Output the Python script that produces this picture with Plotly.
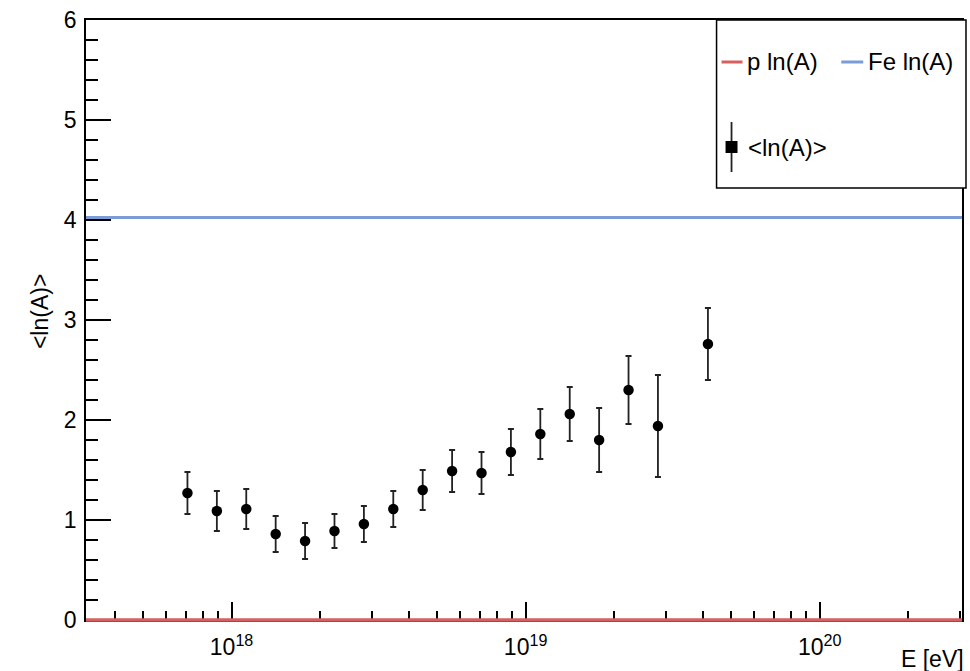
import plotly.graph_objects as go

# Mean logarithmic mass versus primary energy
lg_energy = [17.85, 17.95, 18.05, 18.15, 18.25, 18.35, 18.45, 18.55, 18.65,
             18.75, 18.85, 18.95, 19.05, 19.15, 19.25, 19.35, 19.45, 19.62]
mean_lnA = [1.27, 1.09, 1.11, 0.86, 0.79, 0.89, 0.96, 1.11, 1.30,
            1.49, 1.47, 1.68, 1.86, 2.06, 1.80, 2.30, 1.94, 2.76]
err_lnA = [0.21, 0.20, 0.20, 0.18, 0.18, 0.17, 0.18, 0.18, 0.20,
           0.21, 0.21, 0.23, 0.25, 0.27, 0.32, 0.34, 0.51, 0.36]

# Reference compositions: ln(1) for protons, ln(56) for iron
lnA_proton = 0.0
lnA_iron = 4.025
energy_span = [10.0 ** 17.505, 10.0 ** 20.484]

x_major = [1e18, 1e19, 1e20]
x_major_text = ["10<sup>18</sup>", "10<sup>19</sup>", "10<sup>20</sup>"]
x_minor = [float(m) * 10.0 ** d for d in (17, 18, 19) for m in range(2, 10)] + [2e20, 3e20]
x_minor = [v for v in x_minor if v > 3.2e17]

Y_RANGE = [0, 6]

RED = "#d65f5f"
BLUE = "#7b9cd9"

W, H = 970, 671
L, R, T, B = 86, 6, 20, 51
PW, PH = W - L - R, H - T - B


def px(x):
    return (x - L) / PW


def py(y):
    return (H - B - y) / PH


def y_to_paper(v):
    return (v - Y_RANGE[0]) / (Y_RANGE[1] - Y_RANGE[0])


fig = go.Figure()

fig.add_trace(go.Scatter(
    x=energy_span, y=[lnA_iron, lnA_iron], mode="lines",
    line=dict(color=BLUE, width=3), name="Fe ln(A)"))
fig.add_trace(go.Scatter(
    x=[10.0 ** v for v in lg_energy], y=mean_lnA, mode="markers",
    marker=dict(color="black", size=10.5, symbol="circle"),
    error_y=dict(type="data", array=err_lnA, visible=True,
                 color="#222222", thickness=1.8, width=3),
    name="<ln(A)>"))

axis_common = dict(
    showgrid=False, zeroline=False, showline=True, linecolor="black",
    linewidth=1.5, mirror=True, ticks="inside", tickcolor="black",
    tickwidth=1.5, layer="below traces",
    tickfont=dict(family="Liberation Sans, Arial, sans-serif", size=23, color="black"),
)

fig.update_xaxes(
    type="log", range=[17.505, 20.484], tickvals=x_major, ticktext=x_major_text,
    ticklen=18, ticklabelstandoff=6,
    minor=dict(tickvals=x_minor, ticks="inside", ticklen=9, tickcolor="black",
               tickwidth=1.5, showgrid=False),
    **axis_common)
fig.update_yaxes(
    range=Y_RANGE, tick0=0, dtick=1, ticklen=25, ticklabelstandoff=3,
    minor=dict(dtick=0.2, ticks="inside", ticklen=12, tickcolor="black",
               tickwidth=1.5, showgrid=False),
    **axis_common)

shapes = [
    # proton line sits on the lower frame edge; paper y keeps it unclipped
    dict(type="line", xref="x", yref="paper",
         x0=energy_span[0], x1=energy_span[1],
         y0=y_to_paper(lnA_proton), y1=y_to_paper(lnA_proton),
         line=dict(color=RED, width=3.5), layer="above"),
    # legend box
    dict(type="rect", xref="paper", yref="paper",
         x0=px(718), x1=px(968), y0=py(188), y1=py(20),
         line=dict(color="black", width=1.5), fillcolor="white", layer="above"),
    dict(type="line", xref="paper", yref="paper",
         x0=px(723), x1=px(744), y0=py(62), y1=py(62),
         line=dict(color=RED, width=3)),
    dict(type="line", xref="paper", yref="paper",
         x0=px(843), x1=px(865), y0=py(62), y1=py(62),
         line=dict(color=BLUE, width=3)),
    dict(type="line", xref="paper", yref="paper",
         x0=px(733), x1=px(733), y0=py(122), y1=py(172),
         line=dict(color="#222222", width=1.8)),
    dict(type="rect", xref="paper", yref="paper",
         x0=px(727), x1=px(739), y0=py(153), y1=py(141),
         line=dict(color="black", width=0), fillcolor="black"),
]

LEG_FONT = dict(family="Liberation Sans, Arial, sans-serif", size=24, color="black")
TITLE_FONT = dict(family="Liberation Sans, Arial, sans-serif", size=23, color="black")
annotations = [
    dict(text="p ln(A)", x=px(747), y=py(62), xref="paper", yref="paper",
         xanchor="left", yanchor="middle", showarrow=False, font=LEG_FONT),
    dict(text="Fe ln(A)", x=px(868), y=py(62), xref="paper", yref="paper",
         xanchor="left", yanchor="middle", showarrow=False, font=LEG_FONT),
    dict(text="&lt;ln(A)&gt;", x=px(748), y=py(147), xref="paper", yref="paper",
         xanchor="left", yanchor="middle", showarrow=False, font=LEG_FONT),
    dict(text="E [eV]", x=px(968), y=py(659), xref="paper", yref="paper",
         xanchor="right", yanchor="middle", showarrow=False, font=TITLE_FONT),
    dict(text="&lt;ln(A)&gt;", x=px(40), y=py(312), xref="paper", yref="paper",
         xanchor="center", yanchor="middle", textangle=-90, showarrow=False,
         font=TITLE_FONT),
]

fig.update_layout(
    width=W, height=H, margin=dict(l=L, r=R, t=T, b=B),
    plot_bgcolor="white", paper_bgcolor="white", showlegend=False,
    shapes=shapes, annotations=annotations,
)

fig.write_html("out.html")
